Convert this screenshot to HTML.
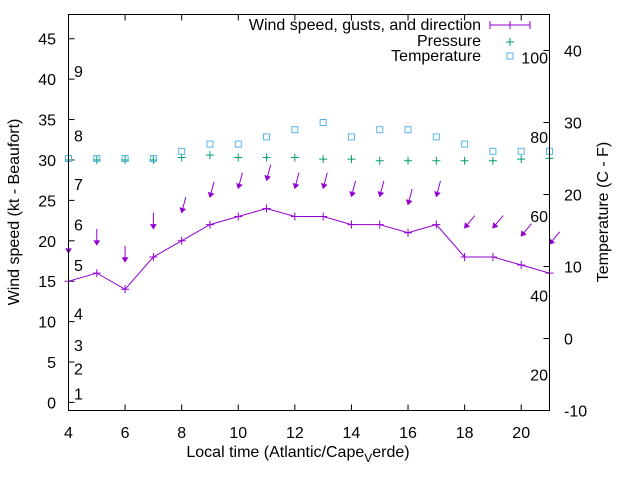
<!DOCTYPE html>
<html><head><meta charset="utf-8"><style>
body{margin:0;background:#fff}
svg{display:block;font-family:"Liberation Sans",sans-serif}
</style></head><body>
<svg id="c" width="640" height="480" viewBox="0 0 640 480" xmlns="http://www.w3.org/2000/svg">
<rect width="640" height="480" fill="#fff"/>
<g id="marks"></g>
<rect x="68.5" y="14.5" width="481" height="396" fill="none" stroke="#000" stroke-width="1"/>
<text transform="translate(19,212) rotate(-90)" text-anchor="middle" font-size="16">Wind speed (kt - Beaufort)</text>
<text transform="translate(608,212) rotate(-90)" text-anchor="middle" font-size="16">Temperature (C - F)</text>
<text x="298" y="457" text-anchor="middle" font-size="16">Local time (Atlantic/Cape<tspan font-size="12" dy="5">V</tspan><tspan dy="-5">erde)</tspan></text>
<g font-size="16" text-anchor="end">
<text x="481" y="30">Wind speed, gusts, and direction</text>
<line x1="490" y1="25" x2="530" y2="25" stroke="#9400d3"/><line x1="490" y1="21" x2="490" y2="29" stroke="#9400d3"/><line x1="530" y1="21" x2="530" y2="29" stroke="#9400d3"/><path d="M506,25h8M510,21v8" stroke="#9400d3"/>
<text x="481" y="46">Pressure</text>
<path d="M506,42h8M510,38v8" stroke="#009e73"/>
<text x="481" y="61">Temperature</text>
<rect x="507" y="53" width="6" height="6" fill="none" stroke="#56b4e9"/>
</g>
</svg>
<script>
const hours=[4,5,6,7,8,9,10,11,12,13,14,15,16,17,18,19,20,21];
const wind=[15,16,14,18,20,22,23,24,23,23,22,22,21,22,18,18,17,16];
const gust=[18.5,19.5,17.4,21.5,23.5,25.4,26.5,27.5,26.5,26.5,25.5,25.5,24.5,25.5,21.6,21.6,20.6,19.6];
const dirDeg=[0,0,0,0,15,15,15,15,15,15,15,15,15,15,40,40,40,40];
const pressure=[30,30,30,30,30.3,30.6,30.3,30.3,30.3,30.1,30.1,29.9,29.9,29.9,29.9,29.9,30.1,30.2];
const tempC=[25,25,25,25,26,27,27,28,29,30,28,29,29,28,27,26,26,26];
const xTicks=[4,6,8,10,12,14,16,18,20];
const yTicks=[0,5,10,15,20,25,30,35,40,45];
const y2Ticks=[-10,0,10,20,30,40];
const beaufortLabels=["1","2","3","4","5","6","7","8","9"];
const beaufortVals=[1.1,4.2,7.1,11,17,22,27,33,41];
const fLabels=["20","40","60","80","100"];
const fVals=[-5,6,17,28,39];
const L=68.5,R=549.5,T=14.5,B=410.5;
const X=v=>L+(v-4)/(21-4)*(R-L);
const Y=v=>B-(v+1)/(48+1)*(B-T);
const Y2=v=>B-(v+10)/(45+10)*(B-T);
const NS="http://www.w3.org/2000/svg";
const g=document.getElementById('marks');
function mk(t,a,p){const e=document.createElementNS(NS,t);for(const k in a)e.setAttribute(k,a[k]);(p||g).appendChild(e);return e;}
xTicks.forEach(v=>{
 const t=mk('path',{d:`M${X(v)},${B}v-6M${X(v)},${T}v6`,stroke:'#000'});
 
 
 const l=mk('text',{x:X(v),y:438,'text-anchor':'middle','font-size':16});l.textContent=v;
 
 
});
yTicks.forEach(v=>{
 const t=mk('path',{d:`M${L},${Y(v)}h6`,stroke:'#000'});
 
 
 const l=mk('text',{x:56,y:Y(v)+6,'text-anchor':'end','font-size':16});l.textContent=v;
 
 
});
y2Ticks.forEach(v=>{
 const t=mk('path',{d:`M${R},${Y2(v)}h-6`,stroke:'#000'});
 
 
 const l=mk('text',{x:564,y:Y2(v)+6,'font-size':16});l.textContent=v;
 
 
});
beaufortLabels.forEach((s,i)=>{
 const l=mk('text',{x:74,y:Y(beaufortVals[i])+6,'font-size':16});l.textContent=s;
 
 
});
fLabels.forEach((s,i)=>{
 const l=mk('text',{x:548,y:Y2(fVals[i])+6,'font-size':16,'text-anchor':'end'});l.textContent=s;
 
 
});
const line=mk('polyline',{points:hours.map((h,i)=>X(h)+','+Y(wind[i])).join(' '),fill:'none',stroke:'#9400d3'});


hours.forEach((h,i)=>{
 const p=mk('path',{d:`M${X(h)-4},${Y(wind[i])}h8M${X(h)},${Y(wind[i])-4}v8`,stroke:'#9400d3'});
 
 
 const a=dirDeg[i]*Math.PI/180,len=16,hx=X(h),hy=Y(gust[i]);
 const sx=hx+Math.sin(a)*len,sy=hy-Math.cos(a)*len;
 const ux=(hx-sx)/len,uy=(hy-sy)/len;
 const bx=hx-ux*4,by=hy-uy*4;
 const ar=mk('path',{d:`M${sx},${sy}L${hx},${hy}M${hx},${hy}L${bx-uy*2.5},${by+ux*2.5}L${bx+uy*2.5},${by-ux*2.5}Z`,stroke:'#9400d3',fill:'#9400d3','stroke-width':1});
 
 
 const pr=mk('path',{d:`M${X(h)-4},${Y(pressure[i])}h8M${X(h)},${Y(pressure[i])-4}v8`,stroke:'#009e73'});
 
 
 const tp=mk('rect',{x:X(h)-3,y:Y2(tempC[i])-3,width:6,height:6,fill:'none',stroke:'#56b4e9'});
 
 
});
</script>
</body></html>
